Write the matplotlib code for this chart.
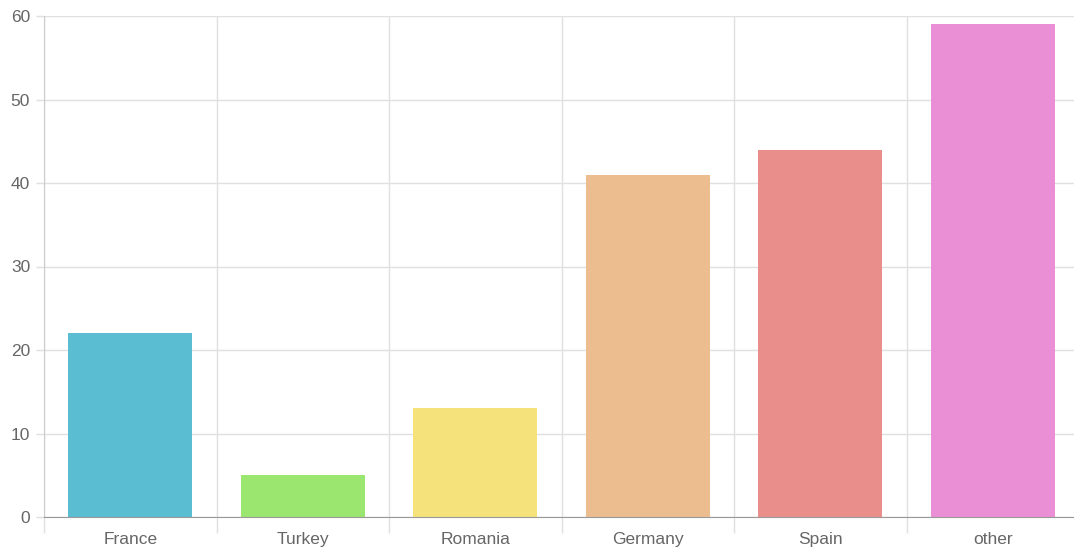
import matplotlib.pyplot as plt

# data
countries = ['France', 'Turkey', 'Romania', 'Germany', 'Spain', 'other']
counts = [22, 5, 13, 41, 44, 59]
colors = ['#5bbdd1', '#9be66f', '#f6e27a', '#ecbd8f', '#ea8e8b', '#ea8fd5']
y_ticks = [0, 10, 20, 30, 40, 50, 60]

plt.rcParams['font.family'] = ['Liberation Sans', 'DejaVu Sans']

fig = plt.figure(figsize=(10.74, 5.54), dpi=100)
ax = fig.add_axes([44 / 1074, 37 / 554, 1035 / 1074, 501 / 554])

x = range(len(countries))
ax.bar(x, counts, width=0.72, color=colors, zorder=3)

ax.set_xlim(-0.5, len(countries) - 0.5)
ax.set_ylim(0, 60)
ax.set_yticks(y_ticks)
ax.set_xticks(list(x))
ax.set_xticklabels(countries)

# grid lines at category boundaries
bounds = [i - 0.5 for i in range(len(countries) + 1)]
ax.set_xticks(bounds, minor=True)
ax.grid(True, which='minor', axis='x', color='#e0e0e0', linewidth=1, zorder=0)
ax.grid(True, which='major', axis='y', color='#e0e0e0', linewidth=1, zorder=0)
ax.tick_params(axis='x', which='major', length=0, pad=11, labelsize=12.5, labelcolor='#666666')
ax.tick_params(axis='x', which='minor', length=11.5, color='#e0e0e0', width=1)
ax.tick_params(axis='y', length=6, color='#e0e0e0', width=1, pad=4, labelsize=12.5, labelcolor='#666666')

for s in ['top', 'right']:
    ax.spines[s].set_visible(False)
ax.spines['left'].set_color('#cccccc')
ax.spines['bottom'].set_color('#999999')
ax.spines['left'].set_zorder(4)
ax.spines['bottom'].set_zorder(4)

fig.savefig('out.png', dpi=100)
